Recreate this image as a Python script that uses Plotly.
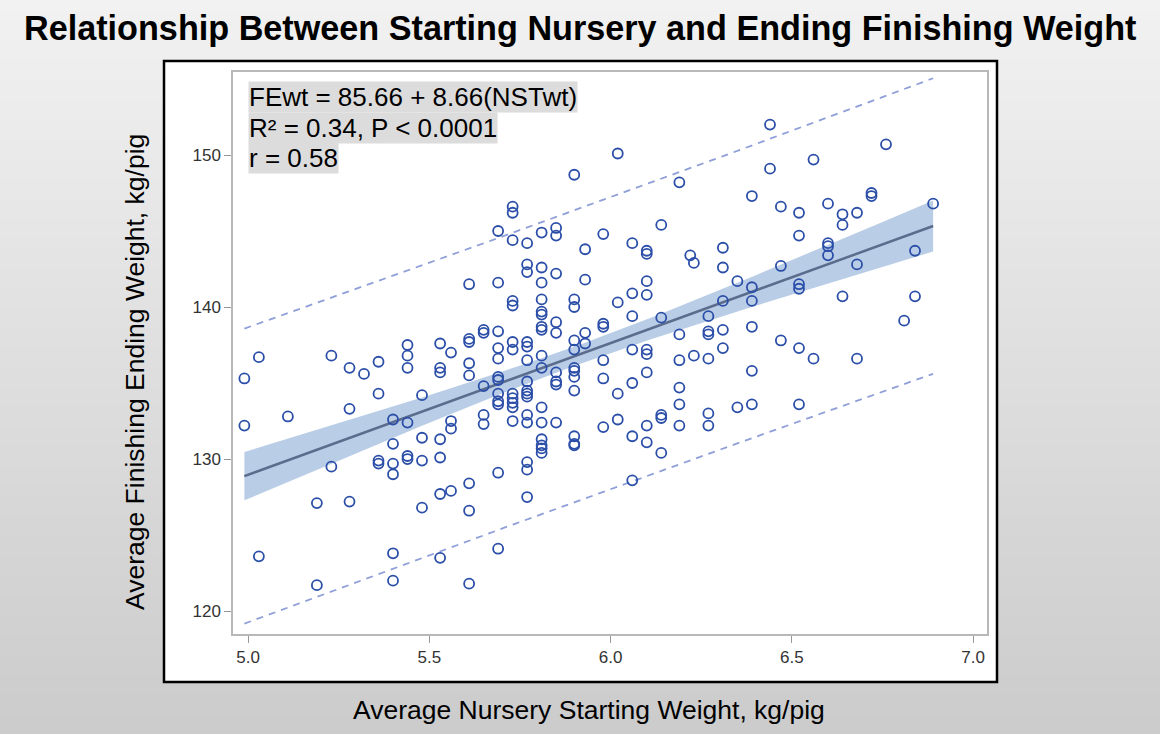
import numpy as np
import plotly.graph_objects as go

# Average nursery starting weight (kg/pig) and finishing ending weight (kg/pig)
nursery_wt = [
    5.61, 5.65, 5.65, 5.61, 5.61, 5.44, 5.44, 5.44, 5.53, 5.56,
    5.23, 5.03, 5.36, 5.28, 5.32, 5.53, 5.53, 5.61, 5.61, 4.99,
    5.36, 5.48, 5.65, 5.11, 5.28, 4.99, 5.40, 5.44, 5.56, 5.56,
    5.65, 5.65, 5.48, 5.53, 5.40, 5.23, 5.36, 5.36, 5.40, 5.40,
    5.44, 5.44, 5.48, 5.53, 5.19, 5.28, 5.48, 5.53, 5.56, 5.61,
    5.61, 5.03, 5.40, 5.53, 5.19, 5.40, 5.61,
    6.02, 5.90, 6.19, 5.73, 5.73, 5.69, 5.73, 5.77, 5.81, 5.85,
    5.85, 5.98, 5.93, 6.06, 6.10, 6.10, 6.14, 6.22, 6.31,
    6.44, 6.76, 6.56, 6.44, 6.39, 6.47, 6.52, 6.60, 6.64, 6.64,
    6.68, 6.72, 6.72, 6.89, 6.52, 6.60, 6.60, 6.60, 6.84,
    6.23, 6.31, 5.77, 5.77, 5.81, 5.85, 5.69, 5.81, 5.93, 6.10,
    6.10, 6.06, 6.02, 5.73, 5.73, 5.81, 5.90, 5.90, 5.81, 5.81,
    5.81, 5.81, 5.85, 5.85, 5.93, 5.98, 5.98, 6.06, 6.14, 6.27,
    6.27, 6.27, 6.31, 6.31, 6.19, 5.69, 5.73, 5.73, 5.77, 5.77,
    5.69, 5.69, 5.90, 5.90, 5.93, 5.81, 5.77, 5.81, 6.06, 6.10,
    6.10, 5.98, 5.90, 5.90, 5.90, 5.85, 5.85, 5.85, 5.77, 5.77,
    5.77, 5.77, 5.69, 5.69, 5.69, 5.69, 5.69, 5.73, 5.73, 5.73,
    5.73, 5.81, 5.90, 5.98, 6.06, 6.10, 6.02, 6.19, 6.23, 6.27,
    6.31, 6.19, 6.19, 6.27, 6.27, 6.19, 6.14, 6.14, 6.10, 6.02,
    5.98, 6.06, 5.73, 5.77, 5.77, 5.81, 5.85, 5.90,
    5.81, 5.81, 5.81, 5.81, 5.90, 5.90, 6.10, 6.14, 5.69, 5.77,
    5.77, 5.77, 6.06, 5.69,
    6.47, 6.68, 6.35, 6.39, 6.39, 6.52, 6.52, 6.64, 6.84, 6.81,
    6.39, 6.47, 6.52, 6.56, 6.68, 6.39, 6.35, 6.39, 6.52,
]
finish_wt = [
    141.5, 138.5, 138.3, 137.9, 137.7, 137.5, 136.8, 136.0, 137.6, 137.0,
    136.8, 136.7, 136.4, 136.0, 135.6, 136.0, 135.7, 136.3, 135.5, 135.3,
    134.3, 134.2, 134.8, 132.8, 133.3, 132.2, 132.6, 132.4, 132.5, 132.0,
    132.9, 132.3, 131.4, 131.3, 131.0, 129.5, 129.9, 129.7, 129.7, 129.0,
    130.2, 130.0, 129.9, 130.1, 127.1, 127.2, 126.8, 127.7, 127.9, 128.4,
    126.6, 123.6, 123.8, 123.5, 121.7, 122.0, 121.8,
    150.1, 148.7, 148.2, 146.6, 146.2, 145.0, 144.4, 144.2, 144.9, 145.2,
    144.7, 144.8, 143.8, 144.2, 143.7, 143.5, 145.4, 143.4, 143.9,
    152.0, 150.7, 149.7, 149.1, 147.3, 146.6, 146.2, 146.8, 146.1, 145.4,
    146.2, 147.5, 147.3, 146.8, 144.7, 144.2, 144.0, 143.4, 143.7,
    142.9, 142.6, 142.8, 142.3, 142.6, 142.2, 141.6, 141.6, 141.8, 141.7,
    140.8, 140.9, 140.3, 140.4, 140.1, 140.5, 140.5, 140.0, 139.7, 139.5,
    138.7, 138.5, 139.0, 138.3, 138.3, 138.9, 138.7, 139.4, 139.3, 139.4,
    138.4, 138.2, 138.5, 137.3, 138.2, 138.4, 137.7, 137.2, 137.7, 137.4,
    137.3, 136.6, 137.8, 137.2, 137.6, 136.8, 136.5, 136.0, 137.2, 137.2,
    136.9, 136.5, 136.0, 135.8, 135.4, 135.7, 135.1, 134.9, 135.1, 134.5,
    134.3, 134.1, 135.4, 135.2, 134.3, 133.8, 133.6, 134.3, 134.0, 133.7,
    133.4, 133.4, 134.5, 135.3, 135.0, 135.7, 134.3, 136.5, 136.8, 136.6,
    140.4, 134.7, 133.6, 133.0, 132.2, 132.2, 132.9, 132.7, 132.2, 132.6,
    132.1, 131.5, 132.5, 132.9, 132.4, 132.4, 132.4, 131.5,
    131.3, 130.9, 130.7, 130.4, 131.0, 130.9, 131.1, 130.4, 129.1, 129.8,
    129.3, 127.5, 128.6, 124.1,
    142.7, 142.8, 141.7, 141.3, 140.4, 141.5, 141.2, 140.7, 140.7, 139.1,
    138.7, 137.8, 137.3, 136.6, 136.6, 135.8, 133.4, 133.6, 133.6,
]

# fitted model reported on the chart
intercept = 85.66
slope = 8.66
stat_lines = [
    "FEwt = 85.66 + 8.66(NSTwt)",
    "R² = 0.34, P < 0.0001",
    "r = 0.58",
]

x = np.array(nursery_wt)
y = np.array(finish_wt)
n = len(x)

# 95% confidence and prediction limits around the reported line
xs = np.linspace(x.min(), x.max(), 100)
fit = intercept + slope * xs
resid = y - (intercept + slope * x)
s = np.sqrt(np.sum(resid ** 2) / (n - 2))
sxx = np.sum((x - x.mean()) ** 2)
t_crit = 1.97
ci = t_crit * s * np.sqrt(1 / n + (xs - x.mean()) ** 2 / sxx)
pi = t_crit * s * np.sqrt(1 + 1 / n + (xs - x.mean()) ** 2 / sxx)

fig = go.Figure()

# confidence band
fig.add_trace(go.Scatter(
    x=np.concatenate([xs, xs[::-1]]),
    y=np.concatenate([fit + ci, (fit - ci)[::-1]]),
    fill='toself',
    fillcolor='#b9cde6',
    line=dict(width=0),
    mode='lines',
    hoverinfo='skip',
))

# prediction limits
for sign in (1, -1):
    fig.add_trace(go.Scatter(
        x=xs,
        y=fit + sign * pi,
        mode='lines',
        line=dict(color='#8f9fd8', width=1.8, dash='7px,6px'),
        hoverinfo='skip',
    ))

# regression line
fig.add_trace(go.Scatter(
    x=xs,
    y=fit,
    mode='lines',
    line=dict(color='#5b6c8c', width=2.5),
))

# observations
fig.add_trace(go.Scatter(
    x=nursery_wt,
    y=finish_wt,
    mode='markers',
    marker=dict(symbol='circle-open', size=10, color='#2b4ea8',
                line=dict(width=1.8, color='#2b4ea8')),
))

# plot area in pixels: left 233, right 987, top 72, bottom 634
W, H = 1160, 734
L, R, T, B = 233, 987, 72, 634
pw, ph = R - L, B - T


def px(xp):
    return (xp - L) / pw


def py(yp):
    return (B - yp) / ph


shapes = []
# grey gradient page background
n_strips = 74
top_c = np.array([242, 242, 242])
bot_c = np.array([204, 204, 204])
for i in range(n_strips):
    frac = i / (n_strips - 1)
    c = (top_c + (bot_c - top_c) * frac).astype(int)
    y0 = i * H / n_strips
    y1 = (i + 1) * H / n_strips + 1
    shapes.append(dict(
        type='rect', xref='paper', yref='paper', layer='below',
        x0=px(0), x1=px(W), y0=py(y1), y1=py(y0),
        fillcolor=f'rgb({c[0]},{c[1]},{c[2]})', line=dict(width=0),
    ))
# white box with black border
shapes.append(dict(
    type='rect', xref='paper', yref='paper', layer='below',
    x0=px(164), x1=px(997), y0=py(682), y1=py(61),
    fillcolor='white', line=dict(color='black', width=2.5),
))

annotations = [
    dict(text='<b>Relationship Between Starting Nursery and Ending Finishing Weight</b>',
         x=px(580), y=py(28), xref='paper', yref='paper', showarrow=False,
         xanchor='center', yanchor='middle',
         font=dict(size=34.2, color='black', family='Liberation Sans, Arial')),
    dict(text='Average Nursery Starting Weight, kg/pig',
         x=px(589), y=py(710), xref='paper', yref='paper', showarrow=False,
         xanchor='center', yanchor='middle',
         font=dict(size=26.5, color='black')),
    dict(text='Average Finishing Ending Weight, kg/pig',
         x=px(135), y=py(372), xref='paper', yref='paper', showarrow=False,
         xanchor='center', yanchor='middle', textangle=-90,
         font=dict(size=26.5, color='black')),
]
for i, line in enumerate(stat_lines):
    annotations.append(dict(
        text=line, x=px(248), y=py(97 + 30.5 * i), xref='paper', yref='paper',
        showarrow=False, xanchor='left', yanchor='middle',
        bgcolor='#dcdcdc', borderpad=0,
        font=dict(size=26, color='black'),
    ))

fig.update_layout(
    width=W,
    height=H,
    margin=dict(l=L, r=W - R, t=T, b=H - B),
    paper_bgcolor='#d9d9d9',
    plot_bgcolor='white',
    showlegend=False,
    font=dict(family='Liberation Sans, Arial, sans-serif', color='#333'),
    shapes=shapes,
    annotations=annotations,
    xaxis=dict(
        range=[4.9586, 7.0386], tickvals=[5.0, 5.5, 6.0, 6.5, 7.0],
        tickformat='.1f', ticks='outside', ticklen=7, tickcolor='#9a9a9a',
        showline=True, linecolor='#b8b8b8', linewidth=1.5, mirror=True,
        showgrid=False, zeroline=False, tickfont=dict(size=17, color='#333'),
    ),
    yaxis=dict(
        range=[118.49, 155.46], tickvals=[120, 130, 140, 150],
        ticks='outside', ticklen=7, tickcolor='#9a9a9a',
        showline=True, linecolor='#b8b8b8', linewidth=1.5, mirror=True,
        showgrid=False, zeroline=False, tickfont=dict(size=17, color='#333'),
    ),
)

fig.write_html("out.html", config={'displayModeBar': False},
               post_script="document.body.style.margin='0';")
